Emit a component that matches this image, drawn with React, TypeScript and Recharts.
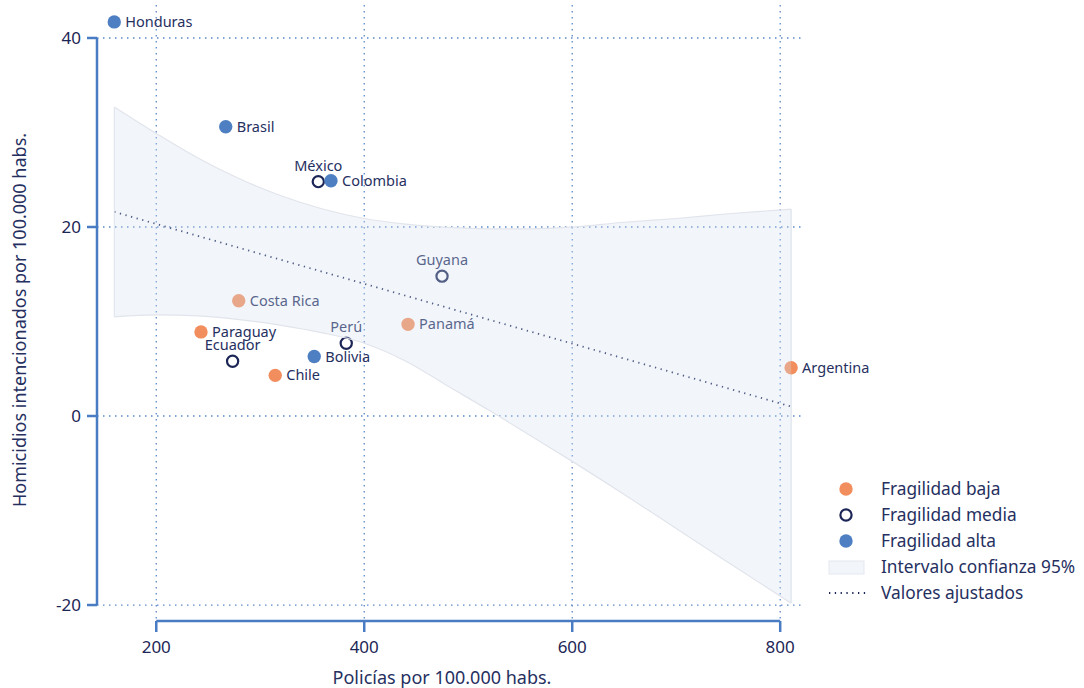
import {
  ComposedChart,
  Scatter,
  Area,
  XAxis,
  YAxis,
  CartesianGrid,
  ReferenceLine,
  Label,
} from "recharts";

/* ── Data ─────────────────────────────────────────────────── */

const bajaNames = ["Paraguay", "Chile", "Costa Rica", "Panamá", "Argentina"];
const bajaX = [243, 314.4, 279.3, 442.1, 810.5];
const bajaY = [8.9, 4.3, 12.2, 9.7, 5.1];

const mediaNames = ["México", "Guyana", "Perú", "Ecuador"];
const mediaX = [355.8, 474.8, 382.7, 273.4];
const mediaY = [24.8, 14.8, 7.7, 5.8];

const altaNames = ["Honduras", "Brasil", "Colombia", "Bolivia"];
const altaX = [159.6, 266.8, 368, 351.9];
const altaY = [41.7, 30.6, 24.9, 6.3];

// intervalo de confianza 95%
const bandX = [159.6, 200, 240, 280, 320, 360, 400, 440, 480, 520, 560, 600, 650, 700, 750, 810.5];
const bandLo = [10.5, 10.7, 10.6, 10.2, 9.6, 8.8, 7.7, 5.8, 3.2, 0.6, -2.1, -4.8, -8.3, -11.9, -15.5, -19.8];
const bandHi = [32.7, 29.9, 27.3, 25.1, 23.3, 21.9, 20.9, 20.3, 19.95, 19.8, 19.8, 20.0, 20.5, 20.9, 21.4, 21.9];

// valores ajustados (extremos de la recta)
const fitStart = { x: 159.6, y: 21.6 };
const fitEnd = { x: 810.5, y: 1.0 };

const xTicks = [200, 400, 600, 800];
const yTicks = [-20, 0, 20, 40];

const topLabels = ["México", "Guyana", "Perú", "Ecuador"];

const legendLabels = [
  "Fragilidad baja",
  "Fragilidad media",
  "Fragilidad alta",
  "Intervalo confianza 95%",
  "Valores ajustados",
];

/* ── Styles ───────────────────────────────────────────────── */

const FONT = "'Noto Sans', Lato, sans-serif";
const ORANGE = "#f28e5e";
const NAVY = "#1c2656";
const BLUE = "#4e7fc3";
const AXIS = "#4a7cc4";
const GRID = "#5b88c9";
const TEXT = "#26305f";
const BAND_EDGE = "#e1e4eb";

const toRows = (names: string[], xs: number[], ys: number[]) =>
  names.map((name, i) => ({ name, x: xs[i], y: ys[i] }));

const bajaData = toRows(bajaNames, bajaX, bajaY);
const mediaData = toRows(mediaNames, mediaX, mediaY);
const altaData = toRows(altaNames, altaX, altaY);
const bandData = bandX.map((x, i) => ({ x, range: [bandLo[i], bandHi[i]] }));
const last = bandX.length - 1;

function makeDot(color: string, hollow: boolean) {
  return (props: any) => {
    const { cx, cy, payload } = props;
    const top = topLabels.includes(payload.name);
    return (
      <g>
        {hollow ? (
          <circle cx={cx} cy={cy} r={5.6} fill="none" stroke={NAVY} strokeWidth={2.2} />
        ) : (
          <circle cx={cx} cy={cy} r={6.7} fill={color} />
        )}
        <text
          x={top ? cx : cx + 11}
          y={top ? cy - 16 : cy}
          dy="0.35em"
          textAnchor={top ? "middle" : "start"}
          fontSize={14.5}
          fontFamily={FONT}
          fill={TEXT}
        >
          {payload.name}
        </text>
      </g>
    );
  };
}

/* ── Legend ───────────────────────────────────────────────── */

function CustomLegend() {
  return (
    <svg width={260} height={140} style={{ display: "block" }}>
      <circle cx={20} cy={13} r={6.7} fill={ORANGE} />
      <circle cx={20} cy={39} r={5.6} fill="none" stroke={NAVY} strokeWidth={2.2} />
      <circle cx={20} cy={65} r={6.7} fill={BLUE} />
      <rect x={3} y={85} width={35} height={13} fill="#f2f6fb" stroke="#e3e7ee" />
      <line x1={3} y1={117} x2={40} y2={117} stroke={NAVY} strokeWidth={1.8} strokeDasharray="1.3 4.5" />
      {legendLabels.map((t, i) => (
        <text key={t} x={55} y={13 + i * 26} dy="0.35em" fontSize={17.3} fontFamily={FONT} fill={TEXT}>
          {t}
        </text>
      ))}
    </svg>
  );
}

/* ── Chart ────────────────────────────────────────────────── */

export default function App() {
  return (
    <div style={{ width: 1084, height: 688, position: "relative", background: "#fff" }}>
      <style>{"body{margin:0}"}</style>
      <ComposedChart
        width={1084}
        height={688}
        data={bandData}
        margin={{ top: 5, right: 283, bottom: 0, left: 0 }}
      >
        <CartesianGrid
          stroke={GRID}
          strokeWidth={1.3}
          strokeDasharray="1.5 4.5"
          horizontalValues={yTicks}
          verticalValues={xTicks}
        />
        <XAxis
          type="number"
          dataKey="x"
          domain={[143, 820]}
          ticks={xTicks}
          axisLine={false}
          tickLine={{ stroke: AXIS, strokeWidth: 2.5 }}
          tickSize={11}
          tickMargin={9}
          height={67}
          tick={{ fill: NAVY, fontSize: 17, fontFamily: FONT }}
        >
          <Label
            content={() => (
              <text x={442} y={678} textAnchor="middle" dy="0.35em" fontSize={18} fontFamily={FONT} fill={TEXT}>
                Policías por 100.000 habs.
              </text>
            )}
          />
        </XAxis>
        <YAxis
          type="number"
          dataKey="y"
          domain={[-21.69, 43.49]}
          ticks={yTicks}
          axisLine={false}
          tickLine={{ stroke: AXIS, strokeWidth: 2.5 }}
          tickSize={10}
          tickMargin={6}
          width={97}
          tick={{ fill: NAVY, fontSize: 17, fontFamily: FONT }}
        >
          <Label
            content={() => (
              <text
                transform="translate(20,320) rotate(-90)"
                textAnchor="middle"
                dy="0.35em"
                fontSize={18}
                fontFamily={FONT}
                fill={TEXT}
              >
                Homicidios intencionados por 100.000 habs.
              </text>
            )}
          />
        </YAxis>
        <ReferenceLine
          segment={[{ x: 143, y: -20 }, { x: 143, y: 40 }]}
          stroke={AXIS}
          strokeWidth={2.5}
          ifOverflow="visible"
        />
        <ReferenceLine
          segment={[{ x: 200, y: -21.69 }, { x: 800, y: -21.69 }]}
          stroke={AXIS}
          strokeWidth={2.5}
          ifOverflow="visible"
        />
        <ReferenceLine
          segment={[fitStart, fitEnd]}
          stroke={NAVY}
          strokeWidth={1.8}
          strokeDasharray="1.3 4.5"
          ifOverflow="visible"
        />
        <Scatter name="Fragilidad baja" data={bajaData} shape={makeDot(ORANGE, false)} isAnimationActive={false} />
        <Scatter name="Fragilidad media" data={mediaData} shape={makeDot(NAVY, true)} isAnimationActive={false} />
        <Scatter name="Fragilidad alta" data={altaData} shape={makeDot(BLUE, false)} isAnimationActive={false} />
        <Area
          type="monotone"
          dataKey="range"
          fill="#d3e2f3"
          fillOpacity={0.3}
          stroke={BAND_EDGE}
          strokeWidth={1.2}
          dot={false}
          activeDot={false}
          isAnimationActive={false}
          zIndex={2500}
        />
        <ReferenceLine
          segment={[{ x: bandX[0], y: bandLo[0] }, { x: bandX[0], y: bandHi[0] }]}
          stroke={BAND_EDGE}
          strokeWidth={1}
          ifOverflow="visible"
        />
        <ReferenceLine
          segment={[{ x: bandX[last], y: bandLo[last] }, { x: bandX[last], y: bandHi[last] }]}
          stroke={BAND_EDGE}
          strokeWidth={1.2}
          ifOverflow="visible"
        />
      </ComposedChart>
      <div style={{ position: "absolute", left: 826, top: 476 }}>
        <CustomLegend />
      </div>
    </div>
  );
}
